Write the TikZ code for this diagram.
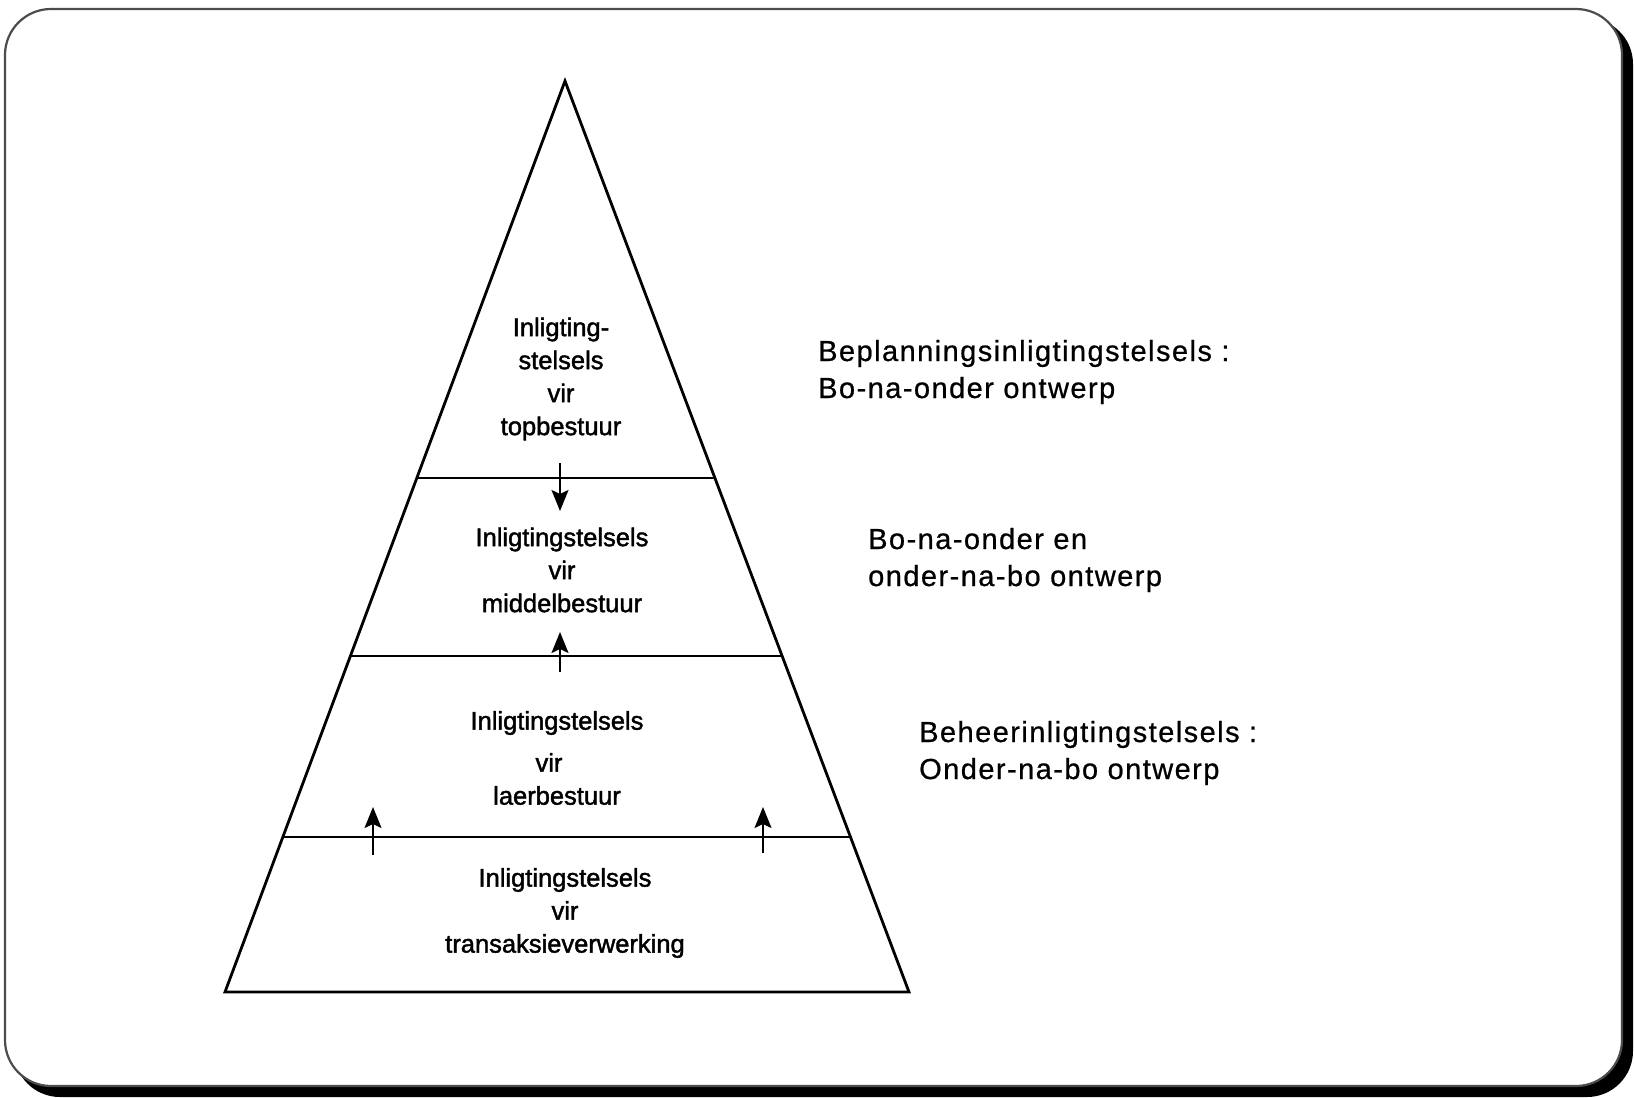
\documentclass[tikz,border=0pt]{standalone}
\usepackage{fontspec}
\setmainfont{Liberation Sans}
\newfontfamily\pyrfont[FakeBold=1.6]{Liberation Sans}
\newfontfamily\sidefont[LetterSpace=5,FakeBold=0.7]{Liberation Sans}
\usetikzlibrary{arrows.meta,calc}

\begin{document}
\begin{tikzpicture}[x=1pt,y=-1pt,
  edge/.style={line width=2.8pt, line join=miter},
  level/.style={align=center, inner sep=0pt,
    font=\pyrfont\fontsize{25.5}{33}\selectfont},
  side/.style={align=left, anchor=west, inner sep=0pt,
    font=\sidefont\fontsize{29}{37}\selectfont},
  flow/.style={line width=1.7pt,
    -{Stealth[length=21pt,width=17pt,inset=4pt]}}]

% page and framed card with its drop shadow
\useasboundingbox (0,0) rectangle (1634,1098);
\fill[white] (0,0) rectangle (1634,1098);
\fill[black, rounded corners=46pt] (14,18) rectangle (1633,1097);
\filldraw[fill=white, draw=black!70, line width=2.2pt, rounded corners=46pt]
  (5,9) rectangle (1622,1086);

% pyramid outline
\coordinate (apex) at (565,81);
\coordinate (bl) at (225,992);
\coordinate (br) at (909,992);
\draw[edge] (apex) -- (bl) -- (br) -- cycle;

% level boundaries
\foreach \t/\n in {0.4358/a, 0.6312/b, 0.8299/c} {
  \coordinate (l\n) at ($(apex)!\t!(bl)$);
  \coordinate (r\n) at ($(apex)!\t!(br)$);
  \draw[edge] (l\n) -- (r\n);
}

% level labels
\node[level] (top) at (561,379) {Inligting-\\stelsels\\vir\\topbestuur};
\node[level] (mid) at (562,570) {Inligtingstelsels\\vir\\middelbestuur};
\node[level] (low) at (557,758) {Inligtingstelsels\\[9pt]\hspace*{-16pt}vir\\laerbestuur};
\node[level] (trx) at (565,913) {Inligtingstelsels\\vir\\transaksieverwerking};

% design approach notes
\node[side] (plan) at (818,372) {Beplanningsinligtingstelsels :\\Bo-na-onder ontwerp};
\node[side] (both) at (868,560) {Bo-na-onder en\\onder-na-bo ontwerp};
\node[side] (ctrl) at (919,753) {Beheerinligtingstelsels :\\Onder-na-bo ontwerp};

% information flow between levels
\coordinate (d1s) at (560,463);  \coordinate (d1e) at (560,511);
\coordinate (u1s) at (560,672);  \coordinate (u1e) at (560,632);
\coordinate (u2s) at (373,855);  \coordinate (u2e) at (373,807);
\coordinate (u3s) at (763,853);  \coordinate (u3e) at (763,807);
\draw[flow] (d1s) -- (d1e);
\draw[flow] (u1s) -- (u1e);
\draw[flow] (u2s) -- (u2e);
\draw[flow] (u3s) -- (u3e);
\end{tikzpicture}
\end{document}
